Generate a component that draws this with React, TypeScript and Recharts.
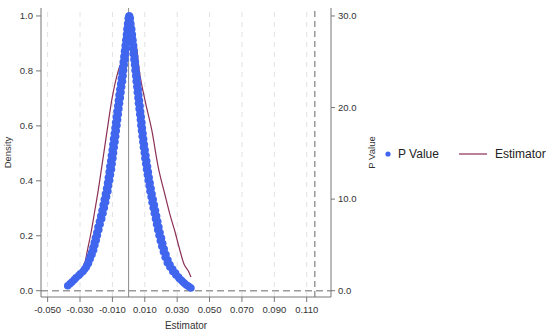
import React from 'react';
import {
  ComposedChart, Scatter, Line, XAxis, YAxis, ReferenceLine, Legend, ZAxis,
} from 'recharts';

// P value scatter: estimator (x) and p value (y)
const leftEstimates = [
  -0.0376, -0.0362, -0.0350, -0.0336, -0.0325, -0.0308, -0.0298, -0.0282, -0.0272, -0.0262,
  -0.0258, -0.0248, -0.0247, -0.0237, -0.0238, -0.0226, -0.0228, -0.0216, -0.0220, -0.0208,
  -0.0212, -0.0200, -0.0205, -0.0193, -0.0196, -0.0184, -0.0189, -0.0176, -0.0180, -0.0166,
  -0.0172, -0.0158, -0.0164, -0.0150, -0.0157, -0.0142, -0.0150, -0.0136, -0.0143, -0.0128,
  -0.0136, -0.0124, -0.0130, -0.0117, -0.0125, -0.0112, -0.0120, -0.0106, -0.0116, -0.0102,
  -0.0110, -0.0097, -0.0106, -0.0093, -0.0101, -0.0089, -0.0097, -0.0084, -0.0093, -0.0080,
  -0.0088, -0.0076, -0.0084, -0.0072, -0.0080, -0.0068, -0.0076, -0.0064, -0.0072, -0.0060,
  -0.0067, -0.0056, -0.0063, -0.0051, -0.0059, -0.0047, -0.0054, -0.0043, -0.0049, -0.0038,
  -0.0045, -0.0034, -0.0041, -0.0031, -0.0037, -0.0027, -0.0033, -0.0022, -0.0029, -0.0018,
  -0.0025, -0.0015, -0.0021, -0.0012, -0.0017, -0.0009, -0.0013, -0.0005, -0.0010, -0.0002,
  -0.0006, 0.0001, -0.0002, 0.0002,
];
const leftPValues = [
  0.018, 0.025, 0.032, 0.040, 0.047, 0.055, 0.062, 0.070, 0.078, 0.085,
  0.092, 0.100, 0.108, 0.116, 0.124, 0.132, 0.140, 0.148, 0.157, 0.166,
  0.175, 0.184, 0.193, 0.202, 0.212, 0.222, 0.232, 0.242, 0.252, 0.262,
  0.272, 0.282, 0.292, 0.302, 0.312, 0.322, 0.332, 0.342, 0.352, 0.362,
  0.372, 0.382, 0.392, 0.402, 0.412, 0.422, 0.432, 0.442, 0.452, 0.462,
  0.472, 0.482, 0.492, 0.502, 0.512, 0.522, 0.532, 0.542, 0.552, 0.562,
  0.572, 0.582, 0.592, 0.602, 0.612, 0.622, 0.632, 0.642, 0.652, 0.662,
  0.672, 0.682, 0.692, 0.702, 0.712, 0.722, 0.732, 0.742, 0.752, 0.762,
  0.772, 0.782, 0.792, 0.802, 0.812, 0.822, 0.832, 0.842, 0.852, 0.862,
  0.872, 0.882, 0.892, 0.902, 0.912, 0.922, 0.932, 0.942, 0.952, 0.962,
  0.972, 0.982, 0.992, 1.000,
];
const rightEstimates = [
  0.0006, 0.0010, 0.0007, 0.0014, 0.0011, 0.0019, 0.0015, 0.0023, 0.0019, 0.0027,
  0.0023, 0.0031, 0.0026, 0.0034, 0.0030, 0.0038, 0.0033, 0.0042, 0.0037, 0.0045,
  0.0040, 0.0049, 0.0044, 0.0053, 0.0047, 0.0056, 0.0051, 0.0060, 0.0054, 0.0063,
  0.0058, 0.0067, 0.0061, 0.0071, 0.0065, 0.0074, 0.0069, 0.0078, 0.0073, 0.0082,
  0.0076, 0.0085, 0.0080, 0.0089, 0.0084, 0.0093, 0.0088, 0.0097, 0.0092, 0.0102,
  0.0097, 0.0107, 0.0101, 0.0112, 0.0106, 0.0117, 0.0111, 0.0122, 0.0116, 0.0127,
  0.0121, 0.0133, 0.0127, 0.0139, 0.0132, 0.0145, 0.0139, 0.0152, 0.0145, 0.0159,
  0.0152, 0.0166, 0.0159, 0.0173, 0.0166, 0.0180, 0.0173, 0.0187, 0.0180, 0.0194,
  0.0188, 0.0203, 0.0196, 0.0211, 0.0205, 0.0220, 0.0215, 0.0231, 0.0226, 0.0243,
  0.0239, 0.0256, 0.0255, 0.0273, 0.0273, 0.0290, 0.0292, 0.0308, 0.0313, 0.0326,
  0.0336, 0.0345, 0.0355, 0.0365, 0.0374, 0.0385,
];
const rightPValues = [
  1.000, 0.992, 0.982, 0.972, 0.962, 0.952, 0.942, 0.932, 0.922, 0.912,
  0.902, 0.892, 0.882, 0.872, 0.862, 0.852, 0.842, 0.832, 0.822, 0.812,
  0.802, 0.792, 0.782, 0.772, 0.762, 0.752, 0.742, 0.732, 0.722, 0.712,
  0.702, 0.692, 0.682, 0.672, 0.662, 0.652, 0.642, 0.632, 0.622, 0.612,
  0.602, 0.592, 0.582, 0.572, 0.562, 0.552, 0.542, 0.532, 0.522, 0.512,
  0.502, 0.492, 0.482, 0.472, 0.462, 0.452, 0.442, 0.432, 0.422, 0.412,
  0.402, 0.392, 0.382, 0.372, 0.362, 0.352, 0.342, 0.332, 0.322, 0.312,
  0.302, 0.292, 0.282, 0.272, 0.262, 0.252, 0.242, 0.232, 0.222, 0.212,
  0.202, 0.192, 0.182, 0.172, 0.162, 0.152, 0.142, 0.132, 0.122, 0.112,
  0.102, 0.094, 0.086, 0.078, 0.070, 0.064, 0.057, 0.050, 0.044, 0.038,
  0.032, 0.027, 0.022, 0.018, 0.014, 0.010,
];

// Estimator density curve
const densityX = [
  -0.0374, -0.0337, -0.0300, -0.0269, -0.0254, -0.0229, -0.0208, -0.0187, -0.0166, -0.0135,
  -0.0104, -0.0064, -0.0028, 0.0002, 0.0025, 0.0046, 0.0066, 0.0101, 0.0143, 0.0183,
  0.0225, 0.0256, 0.0287, 0.0313, 0.0342, 0.0369, 0.0385,
];
const densityY = [
  0.73, 1.39, 2.15, 3.13, 4.44, 6.63, 8.81, 11.0, 13.5, 17.2,
  20.8, 24.0, 25.6, 26.9, 27.3, 26.8, 24.0, 20.8, 17.55, 13.5,
  10.45, 8.27, 6.41, 4.66, 2.92, 2.15, 1.50,
];

const xTicks = [-0.05, -0.03, -0.01, 0.01, 0.03, 0.05, 0.07, 0.09, 0.11];
const leftTicks = [0, 0.2, 0.4, 0.6, 0.8, 1.0];
const rightTicks = [0, 10, 20, 30];
const cutoffLine = 0.115;

const scatterData = [
  ...leftEstimates.map((v, i) => ({ v, p: leftPValues[i] })),
  ...rightEstimates.map((v, i) => ({ v, p: rightPValues[i] })),
];
const lineData = densityX.map((v, i) => ({ v, d: densityY[i] }));

const FONT = '"Liberation Sans", Arial, Helvetica, sans-serif';
const DOT = '#4066ee';
const LINE = '#8b2f55';
const AXIS = '#777777';
const TEXT = '#333333';

const renderLegend = () => (
  <svg width={170} height={20} style={{ display: 'block' }}>
    <circle cx={8} cy={10} r={2.6} fill={DOT} />
    <text x={18} y={14.3} fontFamily={FONT} fontSize={12} fill="#222">P Value</text>
    <line x1={79} x2={107} y1={10} y2={10} stroke={LINE} strokeWidth={1.2} />
    <text x={115} y={14.3} fontFamily={FONT} fontSize={12} fill="#222">Estimator</text>
  </svg>
);

export default function App() {
  return (
    <div style={{ position: 'absolute', left: 0, top: 0, width: 550, height: 333, background: '#fff' }}>
      <ComposedChart
        width={550}
        height={333}
        margin={{ top: 8, right: 159, bottom: 0, left: 0 }}
        style={{ fontFamily: FONT }}
      >
        <XAxis
          dataKey="v"
          type="number"
          domain={[-0.0541, 0.125]}
          ticks={xTicks}
          allowDataOverflow
          tickFormatter={(t: number) => t.toFixed(3)}
          height={36}
          tickSize={5}
          tickMargin={4}
          stroke={AXIS}
          tick={{ fontSize: 9.5, fill: TEXT, fontFamily: FONT }}
          label={{ value: 'Estimator', position: 'insideBottom', offset: 4, fontSize: 10, fill: TEXT, fontFamily: FONT }}
        />
        <YAxis
          yAxisId="left"
          orientation="left"
          type="number"
          domain={[-0.0229, 1.029]}
          ticks={leftTicks}
          allowDataOverflow
          tickFormatter={(t: number) => t.toFixed(1)}
          width={41}
          tickSize={5}
          tickMargin={3}
          stroke={AXIS}
          tick={{ fontSize: 9.5, fill: TEXT, fontFamily: FONT }}
          label={{ value: 'Density', angle: -90, position: 'insideLeft', offset: 8, fontSize: 9.5, fill: TEXT, fontFamily: FONT, style: { textAnchor: 'middle' } }}
        />
        <YAxis
          yAxisId="right"
          orientation="right"
          type="number"
          domain={[-0.688, 30.87]}
          ticks={rightTicks}
          allowDataOverflow
          tickFormatter={(t: number) => t.toFixed(1)}
          width={60}
          tickSize={4}
          tickMargin={3}
          stroke={AXIS}
          tick={{ fontSize: 9.5, fill: TEXT, fontFamily: FONT }}
          label={{ value: 'P Value', angle: -90, position: 'insideLeft', offset: 41, fontSize: 9.5, fill: TEXT, fontFamily: FONT, style: { textAnchor: 'middle' } }}
        />
        <ZAxis range={[45, 45]} />
        {xTicks.map((t) => (
          <ReferenceLine key={`g${t}`} yAxisId="left" x={t} stroke="#e2e2e2" strokeWidth={1} strokeDasharray="5 5" />
        ))}
        <ReferenceLine yAxisId="left" x={0} stroke="#8a8a8a" strokeWidth={1} />
        <ReferenceLine yAxisId="left" x={cutoffLine} stroke="#8a8a8a" strokeWidth={1.3} strokeDasharray="6 4" />
        <ReferenceLine yAxisId="left" y={0} stroke="#9a9a9a" strokeWidth={1.5} strokeDasharray="7 4" />
        <Scatter
          name="P Value"
          yAxisId="left"
          data={scatterData}
          dataKey="p"
          fill={DOT}
          shape="circle"
          isAnimationActive={false}
        />
        <Line
          name="Estimator"
          yAxisId="right"
          data={lineData}
          dataKey="d"
          type="monotone"
          stroke={LINE}
          strokeWidth={1.2}
          dot={false}
          activeDot={false}
          isAnimationActive={false}
        />
        <Legend
          layout="horizontal"
          align="center"
          verticalAlign="middle"
          content={renderLegend}
          wrapperStyle={{ left: 380, top: 144, width: 170, height: 20 }}
        />
      </ComposedChart>
    </div>
  );
}
